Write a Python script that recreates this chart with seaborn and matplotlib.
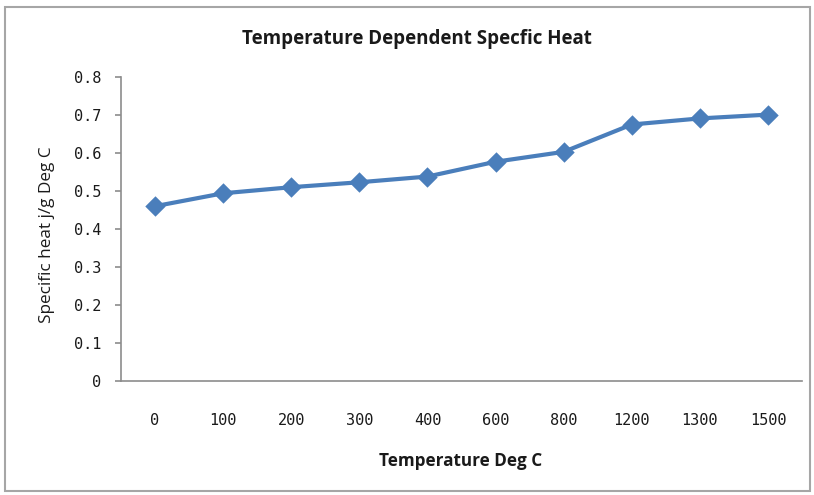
import matplotlib
matplotlib.use("Agg")
import matplotlib.pyplot as plt
import seaborn as sns
import pandas as pd
from matplotlib.patches import Rectangle

temps = ["0", "100", "200", "300", "400", "600", "800", "1200", "1300", "1500"]
specific_heat = [0.46, 0.494, 0.51, 0.523, 0.538, 0.577, 0.603, 0.675, 0.691, 0.701]
y_ticks = [0, 0.1, 0.2, 0.3, 0.4, 0.5, 0.6, 0.7, 0.8]
y_tick_labels = ["0", "0.1", "0.2", "0.3", "0.4", "0.5", "0.6", "0.7", "0.8"]

sns.set_theme(style="white")
plt.rcParams["font.family"] = ["DejaVu Sans"]

df = pd.DataFrame({"Temperature": temps, "Cp": specific_heat})

W, H = 814, 495
fig = plt.figure(figsize=(W / 100, H / 100), dpi=100)
fig.patch.set_facecolor("white")
ax = fig.add_axes([121 / W, 1 - 381 / H, (802 - 121) / W, (381 - 77) / H])

sns.pointplot(data=df, x="Temperature", y="Cp", order=temps, color="#4A7EBB",
              markers="D", markersize=8, linewidth=3, ax=ax)

ax.set_xlim(-0.5, len(temps) - 0.5)
ax.set_ylim(0, 0.8)
ax.set_yticks(y_ticks)
ax.set_yticklabels(y_tick_labels)

for s in ["top", "right"]:
    ax.spines[s].set_visible(False)
for s in ["left", "bottom"]:
    ax.spines[s].set_color("#8c8c8c")
    ax.spines[s].set_linewidth(1.2)

ax.tick_params(axis="y", which="major", left=True, length=4, width=1.2, color="#8c8c8c",
               pad=10, labelsize=11, labelcolor="#1a1a1a")
ax.tick_params(axis="x", which="major", bottom=False, length=0, pad=23, labelsize=11,
               labelcolor="#1a1a1a")
for lab in ax.get_xticklabels() + ax.get_yticklabels():
    lab.set_fontfamily("DejaVu Sans Mono")

ax.set_xlabel("")
ax.set_ylabel("")
ax.grid(False)

fig.text(417 / W, 1 - 39 / H, "Temperature Dependent Specfic Heat", ha="center", va="center",
         fontsize=13.5, fontweight="bold", family="Open Sans", color="#1a1a1a")
fig.text(461 / W, 1 - 461 / H, "Temperature Deg C", ha="center", va="center",
         fontsize=12.3, fontweight="bold", family="Open Sans", color="#1a1a1a")
fig.text(47 / W, 1 - 235 / H, "Specific heat j/g Deg C", ha="center", va="center",
         rotation=90, fontsize=12.3, family="Open Sans", color="#1a1a1a")

fig.add_artist(Rectangle((5 / W, 1 - 491 / H), (810 - 5) / W, (491 - 7) / H,
                         transform=fig.transFigure, fill=False, edgecolor="#a6a6a6",
                         linewidth=1.5))

fig.savefig("out.png", dpi=100)
